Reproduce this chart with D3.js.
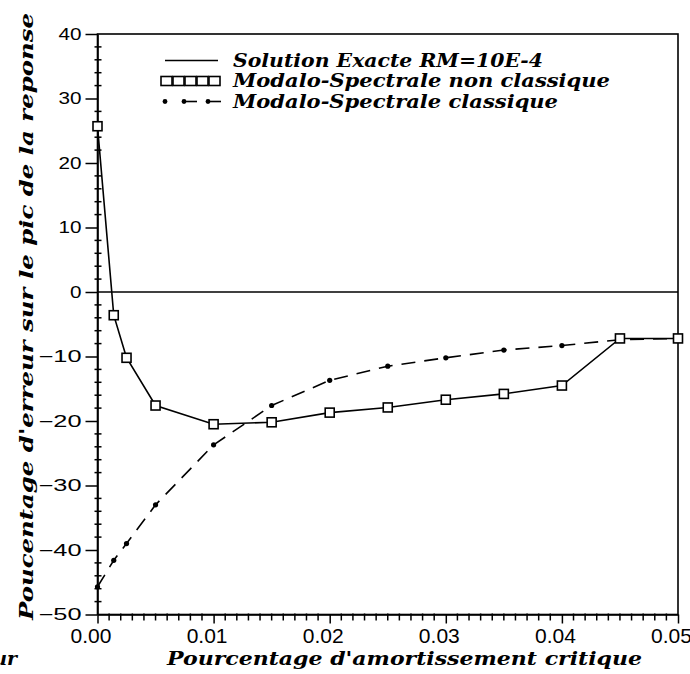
<!DOCTYPE html>
<html>
<head>
<meta charset="utf-8">
<script src="https://cdn.jsdelivr.net/npm/d3@7"></script>
<style>
  html, body { margin: 0; padding: 0; background: #fff; }
  svg { display: block; }
</style>
</head>
<body>
<script>
// Damping ratio (fraction of critical) at which the peak response was computed
const amortissement = [0, 0.0014, 0.0025, 0.005, 0.01, 0.015, 0.02, 0.025, 0.03, 0.035, 0.04, 0.045, 0.05];
// Error (%) on the response peak, non-classical modal-spectral method
const nonClassique = [25.7, -3.6, -10.2, -17.6, -20.5, -20.2, -18.7, -17.9, -16.7, -15.8, -14.5, -7.2, -7.2];
// Error (%) on the response peak, classical modal-spectral method
const classique = [-45.7, -41.6, -39.0, -33.0, -23.7, -17.6, -13.7, -11.5, -10.2, -9.0, -8.3, -7.4, -7.2];
// Exact solution reference (zero error)
const exacte = [0, 0];
const exacteX = [0, 0.05];

const xTicks = [0, 0.01, 0.02, 0.03, 0.04, 0.05];
const yTicks = [40, 30, 20, 10, 0, -10, -20, -30, -40, -50];

const legendLabels = [
  "Solution Exacte RM=10E-4",
  "Modalo-Spectrale non classique",
  "Modalo-Spectrale classique"
];

const W = 690, H = 674;
const svg = d3.select("body").append("svg").attr("width", W).attr("height", H);

const x = d3.scaleLinear().domain([0, 0.05]).range([97.5, 678]);
const y = d3.scaleLinear().domain([-50, 40]).range([614.5, 34]);

const ink = "#000";
const titleFont = "'DejaVu Serif', serif";
const tickFont = "'Liberation Sans', Arial, sans-serif";

// Frame
svg.append("rect")
  .attr("x", x(0)).attr("y", y(40))
  .attr("width", x(0.05) - x(0)).attr("height", y(-50) - y(40))
  .attr("fill", "none").attr("stroke", ink).attr("stroke-width", 1.6);

// Y axis: major ticks outward, minor ticks crossing the axis
const yMinor = d3.range(-50, 40.01, 2).filter(v => v % 10 !== 0);
svg.append("g").selectAll("line").data(yMinor).join("line")
  .attr("x1", x(0) - 3).attr("x2", x(0) + 4)
  .attr("y1", d => y(d)).attr("y2", d => y(d))
  .attr("stroke", ink).attr("stroke-width", 1.5);
const yAxis = d3.axisLeft(y).tickValues(yTicks).tickSizeInner(12).tickSizeOuter(0)
  .tickPadding(4).tickFormat(d => d < 0 ? "\u2212" + Math.abs(d) : String(d));
const gy = svg.append("g").attr("transform", `translate(${x(0)},0)`).call(yAxis);
gy.select(".domain").attr("stroke", ink).attr("stroke-width", 1.6);
gy.selectAll(".tick line").attr("stroke", ink).attr("stroke-width", 1.5);
gy.selectAll(".tick text")
  .attr("font-family", tickFont).attr("font-size", 16).attr("fill", ink)
  .attr("x", -16)
  .attr("textLength", d => (String(Math.abs(d)).length * 11.5) + (d < 0 ? 20 : 0))
  .attr("lengthAdjust", "spacingAndGlyphs");

// X axis: major and minor ticks below the axis
const xMinor = d3.range(1, 50).filter(i => i % 10 !== 0).map(i => i / 1000);
svg.append("g").selectAll("line").data(xMinor).join("line")
  .attr("x1", d => x(d)).attr("x2", d => x(d))
  .attr("y1", y(-50) - 1).attr("y2", y(-50) + 6)
  .attr("stroke", ink).attr("stroke-width", 1.5);
const xAxis = d3.axisBottom(x).tickValues(xTicks).tickSizeInner(9).tickSizeOuter(0)
  .tickPadding(4).tickFormat(d3.format(".2f"));
const gx = svg.append("g").attr("transform", `translate(0,${y(-50)})`).call(xAxis);
gx.select(".domain").attr("stroke", ink).attr("stroke-width", 1.6);
gx.selectAll(".tick line").attr("stroke", ink).attr("stroke-width", 1.5);
gx.selectAll(".tick text")
  .attr("font-family", tickFont).attr("font-size", 21).attr("fill", ink)
  .attr("x", -7).attr("dy", null).attr("y", 28.5);

// Exact solution (zero-error line)
const lineGen = d3.line().x(d => x(d[0])).y(d => y(d[1]));
svg.append("path")
  .datum(exacteX.map((v, i) => [v, exacte[i]]))
  .attr("d", lineGen).attr("fill", "none").attr("stroke", ink).attr("stroke-width", 1.3);

// Classical modal-spectral: dashed line with dots
const classPts = amortissement.map((v, i) => [v, classique[i]]);
svg.append("path").datum(classPts)
  .attr("d", lineGen).attr("fill", "none").attr("stroke", ink)
  .attr("stroke-width", 1.6).attr("stroke-dasharray", "14,9");
svg.append("g").selectAll("circle").data(classPts).join("circle")
  .attr("cx", d => x(d[0])).attr("cy", d => y(d[1])).attr("r", 2.6).attr("fill", ink);

// Non-classical modal-spectral: solid line with open squares
const nonClassPts = amortissement.map((v, i) => [v, nonClassique[i]]);
svg.append("path").datum(nonClassPts)
  .attr("d", lineGen).attr("fill", "none").attr("stroke", ink).attr("stroke-width", 1.6);
svg.append("g").selectAll("rect").data(nonClassPts).join("rect")
  .attr("x", d => x(d[0]) - 4.5).attr("y", d => y(d[1]) - 4.5)
  .attr("width", 9).attr("height", 9)
  .attr("fill", "#fff").attr("stroke", ink).attr("stroke-width", 1.6);

// Legend
const legX = 233;
const legBase = [66.5, 87, 107.5];
const legLen = [310, 377, 325];
const leg = svg.append("g");
leg.selectAll("text").data(legendLabels).join("text")
  .attr("x", legX).attr("y", (d, i) => legBase[i])
  .attr("font-family", titleFont).attr("font-style", "italic").attr("font-weight", "bold")
  .attr("font-size", 19).attr("fill", ink)
  .attr("textLength", (d, i) => legLen[i]).attr("lengthAdjust", "spacingAndGlyphs")
  .text(d => d);
// sample: exact solution
leg.append("line").attr("x1", 165).attr("x2", 218)
  .attr("y1", legBase[0] - 6).attr("y2", legBase[0] - 6)
  .attr("stroke", ink).attr("stroke-width", 1.3);
// sample: squares
leg.selectAll("rect.s").data(d3.range(5)).join("rect").attr("class", "s")
  .attr("x", i => 161 + i * 12).attr("y", legBase[1] - 10.5)
  .attr("width", 11).attr("height", 9)
  .attr("fill", "#fff").attr("stroke", ink).attr("stroke-width", 1.6);
// sample: dots with dashes
const dotY = legBase[2] - 6;
leg.append("circle").attr("cx", 165).attr("cy", dotY).attr("r", 2.4).attr("fill", ink);
[[182, 197], [206, 221]].forEach(([a, b]) => {
  leg.append("line").attr("x1", a).attr("x2", b).attr("y1", dotY).attr("y2", dotY)
    .attr("stroke", ink).attr("stroke-width", 1.6);
  leg.append("circle").attr("cx", a + 2).attr("cy", dotY).attr("r", 2.4).attr("fill", ink);
});

// Axis titles
svg.append("text")
  .attr("x", 404.5).attr("y", 665)
  .attr("text-anchor", "middle")
  .attr("font-family", titleFont).attr("font-style", "italic").attr("font-weight", "bold")
  .attr("font-size", 19).attr("fill", ink)
  .attr("textLength", 475).attr("lengthAdjust", "spacingAndGlyphs")
  .text("Pourcentage d'amortissement critique");

svg.append("text")
  .attr("transform", "translate(33,316.5) rotate(-90)")
  .attr("text-anchor", "middle")
  .attr("font-family", titleFont).attr("font-style", "italic").attr("font-weight", "bold")
  .attr("font-size", 19).attr("fill", ink)
  .attr("textLength", 607).attr("lengthAdjust", "spacingAndGlyphs")
  .text("Poucentage d'erreur sur le pic de la reponse");

// Trailing fragment at the lower-left edge
svg.append("text")
  .attr("x", 17).attr("y", 665).attr("text-anchor", "end")
  .attr("font-family", titleFont).attr("font-style", "italic").attr("font-weight", "bold")
  .attr("font-size", 19).attr("fill", ink)
  .text("ur");
</script>
</body>
</html>
